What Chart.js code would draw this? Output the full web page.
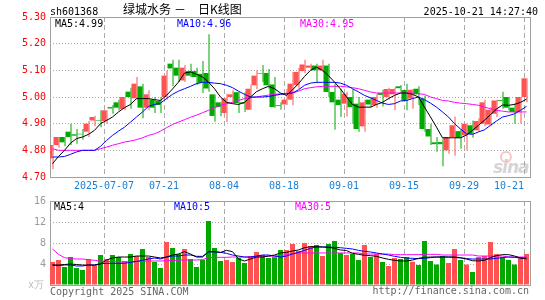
<!DOCTYPE html>
<html>
<head>
<meta charset="utf-8">
<script src="https://cdn.jsdelivr.net/npm/chart.js@4.4.1/dist/chart.umd.min.js"></script>
<style>
  body { margin: 0; background: #fff; }
  #wrap { position: relative; width: 545px; height: 300px; overflow: hidden; background: #fff;
          font-family: "DejaVu Sans Mono", monospace; font-size: 10px; }
  .t { position: absolute; white-space: pre; line-height: 12px; }
  .cjk { font-family: "Noto Sans CJK SC", sans-serif; font-size: 12px; line-height: 14px; }
  canvas { position: absolute; left: 0; }
  #logo { position: absolute; left: 493px; top: 157px; font: italic bold 17px "DejaVu Sans", sans-serif;
          color: rgba(160,160,160,0.45); letter-spacing: -1px; }
  #eye { position: absolute; left: 500px; top: 151px; width: 8px; height: 8px; border-radius: 50%;
         border: 2px solid rgba(235,130,130,0.45); }
</style>
</head>
<body>
<div id="wrap">
  <div id="eye"></div>
  <div id="logo">sina</div>
  <canvas id="priceChart" width="545" height="195" style="top:0"></canvas>
  <canvas id="volChart" width="545" height="105" style="top:195px"></canvas>

  <div class="t" style="left:50px;top:6px;color:#000">sh601368</div>
  <div class="t cjk" style="left:123px;top:2px;color:#000">绿城水务</div>
  <div class="t cjk" style="left:174px;top:2px;color:#000">－</div>
  <div class="t cjk" style="left:198px;top:2px;color:#000">日K线图</div>
  <div class="t" style="right:7px;top:6px;color:#000">2025-10-21 14:27:40</div>

  <div class="t" style="left:55px;top:18px;color:#000">MA5:4.99</div>
  <div class="t" style="left:177px;top:18px;color:#0000ff">MA10:4.96</div>
  <div class="t" style="left:300px;top:18px;color:#ff00ff">MA30:4.95</div>

  <div class="t" style="left:54px;top:201px;color:#000">MA5:4</div>
  <div class="t" style="left:174px;top:201px;color:#0000ff">MA10:5</div>
  <div class="t" style="left:295px;top:201px;color:#ff00ff">MA30:5</div>

  <div class="t" style="left:28px;top:279px;color:#bbb">x万</div>
  <div class="t" style="left:50px;top:286px;color:#666">Copyright 2025 SINA.COM</div>
  <div class="t" style="right:16px;top:285px;color:#666">http://finance.sina.com.cn</div>
</div>

<script>
/* ------------------------------------------------------------
   DATA (80 trading days 06-24 .. 10-21)
------------------------------------------------------------- */
const opens = [
  4.77, 4.82, 4.85, 4.87, 4.86, 4.862, 4.87, 4.912, 4.912, 4.91,
  4.962, 4.98, 4.955, 5.02, 4.995, 5.04, 4.96, 4.99, 4.985, 5.00,
  5.125, 5.11, 5.062, 5.097, 5.097, 5.087, 5.09, 5.01, 4.98, 4.94,
  5.00, 5.018, 4.98, 4.952, 5.044, 5.09, 5.09, 5.047, 4.969, 4.972,
  4.99, 5.044, 5.097, 5.11, 5.118, 5.10, 5.118, 5.019, 4.99, 4.975,
  5.00, 4.975, 4.89, 4.99, 4.97, 5.015, 5.00, 5.01, 5.04, 5.026,
  4.994, 5.031, 4.994, 4.88, 4.83, 4.831, 4.80, 4.85, 4.872, 4.856,
  4.894, 4.875, 4.90, 4.897, 4.937, 4.988, 5.00, 4.96, 4.944, 5.00
];
const highs = [
  4.82, 4.85, 4.85, 4.90, 4.88, 4.88, 4.91, 4.93, 4.95, 4.95,
  4.97, 4.99, 5.00, 5.035, 5.075, 5.05, 5.025, 5.00, 5.00, 5.10,
  5.14, 5.14, 5.12, 5.125, 5.11, 5.135, 5.235, 5.01, 4.98, 5.012,
  5.025, 5.02, 5.018, 5.047, 5.10, 5.12, 5.105, 5.075, 4.98, 5.03,
  5.094, 5.11, 5.14, 5.125, 5.125, 5.14, 5.125, 5.05, 5.031, 5.02,
  5.03, 5.00, 4.99, 5.00, 5.01, 5.026, 5.035, 5.035, 5.045, 5.05,
  5.03, 5.04, 5.006, 4.90, 4.85, 4.844, 4.85, 4.927, 4.88, 4.90,
  4.912, 4.92, 4.99, 4.962, 4.99, 5.02, 5.00, 4.977, 5.00, 5.07
];
const lows = [
  4.73, 4.81, 4.815, 4.82, 4.825, 4.84, 4.85, 4.89, 4.887, 4.90,
  4.937, 4.95, 4.95, 4.956, 4.99, 4.92, 4.95, 4.94, 4.94, 4.99,
  5.04, 5.056, 5.056, 5.075, 5.045, 5.015, 5.02, 4.907, 4.928, 4.906,
  4.975, 4.94, 4.944, 4.952, 5.03, 5.056, 5.031, 4.96, 4.952, 4.97,
  4.969, 5.03, 5.09, 5.10, 5.052, 5.095, 5.00, 4.877, 4.925, 4.927,
  4.90, 4.87, 4.87, 4.96, 4.96, 4.964, 4.99, 4.95, 5.02, 4.95,
  4.956, 4.97, 4.87, 4.82, 4.795, 4.74, 4.787, 4.78, 4.806, 4.80,
  4.847, 4.87, 4.89, 4.89, 4.925, 4.956, 4.95, 4.90, 4.90, 4.98
];
const closes = [
  4.82, 4.85, 4.83, 4.85, 4.855, 4.86, 4.90, 4.925, 4.91, 4.95,
  4.957, 4.96, 5.00, 5.00, 5.05, 4.96, 5.01, 4.96, 4.97, 5.08,
  5.107, 5.08, 5.11, 5.08, 5.075, 5.053, 5.032, 4.929, 4.962, 4.995,
  5.01, 4.977, 4.975, 5.031, 5.08, 5.088, 5.044, 4.962, 4.966, 4.99,
  5.05, 5.094, 5.122, 5.118, 5.10, 5.118, 5.019, 4.98, 4.97, 5.012,
  4.962, 4.88, 4.98, 4.972, 5.00, 5.008, 5.03, 5.03, 5.033, 4.986,
  5.027, 5.01, 4.88, 4.852, 4.823, 4.823, 4.85, 4.894, 4.847, 4.90,
  4.862, 4.91, 4.98, 4.952, 4.987, 4.985, 4.96, 4.944, 5.00, 5.07
];
const ma5 = [
  4.75, 4.777, 4.80, 4.827, 4.844, 4.85, 4.86, 4.875, 4.90, 4.912,
  4.925, 4.944, 4.96, 4.972, 4.994, 4.994, 4.994, 4.99, 4.987, 5.006,
  5.03, 5.056, 5.09, 5.094, 5.085, 5.075, 5.056, 5.031, 5.00, 4.98,
  4.975, 4.972, 4.98, 5.00, 5.02, 5.031, 5.04, 5.031, 5.015, 5.006,
  5.027, 5.05, 5.077, 5.10, 5.112, 5.10, 5.08, 5.056, 5.03, 5.00,
  4.972, 4.962, 4.962, 4.962, 4.972, 4.98, 4.994, 5.006, 5.015, 5.015,
  5.01, 5.00, 4.962, 4.925, 4.887, 4.847, 4.847, 4.847, 4.847, 4.857,
  4.875, 4.894, 4.913, 4.934, 4.955, 4.97, 4.969, 4.972, 4.98, 4.992
];
const ma10 = [
  4.775, 4.775, 4.777, 4.785, 4.794, 4.80, 4.80, 4.80, 4.815, 4.837,
  4.856, 4.872, 4.887, 4.906, 4.925, 4.944, 4.965, 4.972, 4.977, 4.994,
  5.01, 5.022, 5.031, 5.04, 5.05, 5.055, 5.055, 5.052, 5.05, 5.044,
  5.035, 5.022, 5.01, 5.00, 5.00, 5.00, 5.002, 5.006, 5.01, 5.012,
  5.015, 5.027, 5.044, 5.052, 5.055, 5.055, 5.055, 5.055, 5.052, 5.044,
  5.031, 5.019, 5.006, 4.997, 4.987, 4.977, 4.972, 4.975, 4.985, 4.987,
  4.994, 5.00, 4.99, 4.977, 4.962, 4.944, 4.925, 4.90, 4.88, 4.862,
  4.86, 4.869, 4.877, 4.894, 4.91, 4.925, 4.93, 4.937, 4.95, 4.965
];
const ma30 = [
  4.806, 4.80, 4.80, 4.80, 4.80, 4.80, 4.80, 4.80, 4.806, 4.812,
  4.819, 4.825, 4.831, 4.835, 4.84, 4.847, 4.856, 4.862, 4.872, 4.885,
  4.897, 4.906, 4.915, 4.924, 4.932, 4.941, 4.95, 4.96, 4.969, 4.975,
  4.98, 4.987, 4.994, 4.997, 5.00, 5.004, 5.007, 5.01, 5.012, 5.014,
  5.015, 5.022, 5.031, 5.035, 5.038, 5.04, 5.04, 5.04, 5.04, 5.038,
  5.035, 5.031, 5.025, 5.019, 5.015, 5.015, 5.015, 5.015, 5.015, 5.015,
  5.015, 5.012, 5.01, 5.00, 4.994, 4.987, 4.985, 4.98, 4.977, 4.975,
  4.972, 4.969, 4.962, 4.956, 4.95, 4.947, 4.944, 4.944, 4.944, 4.944
];
const volumes = [
  4.38, 4.76, 3.43, 5.33, 3.24, 2.86, 4.95, 3.81, 5.71, 4.95,
  5.71, 5.33, 4.57, 5.9, 5.52, 6.86, 5.33, 4.38, 3.24, 8.19,
  7.05, 5.9, 6.86, 4.95, 3.43, 4.76, 12.19, 7.05, 4.57, 4.76,
  4.38, 5.14, 4.19, 5.52, 6.29, 5.71, 5.14, 5.3, 6.67, 6.67,
  7.81, 6.48, 8.0, 7.43, 7.62, 5.52, 7.81, 8.38, 6.1, 5.71,
  5.9, 4.76, 7.62, 5.33, 5.9, 4.38, 3.62, 5.14, 4.95, 5.33,
  4.44, 3.81, 8.38, 4.57, 3.9, 5.52, 4.19, 6.86, 4.76, 3.9,
  2.48, 5.33, 5.52, 8.19, 5.9, 5.33, 4.76, 3.9, 5.33, 5.9
];
const volMa5 = [
  3.81, 3.81, 3.9, 4.0, 3.9, 3.8, 3.8, 3.8, 4.0, 4.76,
  5.14, 5.33, 5.33, 5.33, 5.52, 5.52, 5.52, 5.33, 5.14, 5.33,
  5.71, 5.9, 6.35, 5.9, 5.33, 5.33, 6.35, 6.35, 6.2, 6.6,
  6.35, 4.95, 4.57, 4.95, 5.33, 5.33, 5.52, 5.71, 6.1, 6.2,
  6.48, 6.67, 7.1, 7.3, 7.3, 7.24, 7.17, 6.98, 6.67, 6.57,
  6.03, 5.84, 5.65, 5.59, 5.46, 5.14, 4.89, 4.7, 4.57, 4.57,
  4.76, 5.08, 5.27, 5.33, 5.33, 5.33, 5.33, 5.33, 5.21, 4.95,
  4.63, 4.57, 4.7, 5.21, 5.59, 5.78, 5.78, 5.52, 5.14, 4.95
];
const volMa10 = [
  3.81, 3.68, 3.81, 3.81, 3.62, 3.62, 3.81, 3.81, 4.06, 4.13,
  4.13, 4.13, 4.13, 4.32, 4.5, 4.7, 4.95, 5.14, 4.95, 5.33,
  5.52, 5.52, 5.71, 5.71, 5.46, 5.46, 6.3, 6.3, 6.22, 6.03,
  5.71, 5.52, 5.33, 5.33, 5.52, 5.71, 5.71, 5.52, 5.33, 5.52,
  5.9, 6.22, 6.6, 6.98, 7.24, 7.24, 7.24, 7.17, 7.1, 6.98,
  6.86, 6.6, 6.41, 6.29, 6.1, 5.9, 5.71, 5.46, 5.27, 5.14,
  5.08, 5.02, 5.08, 5.21, 5.33, 5.33, 5.33, 5.27, 5.14, 5.02,
  4.95, 4.95, 4.95, 4.95, 5.08, 5.21, 5.33, 5.27, 5.14, 5.14
];
const volMa30 = [
  6.86, 5.84, 5.2, 5.02, 4.95, 4.95, 4.83, 4.7, 4.57, 4.51,
  4.44, 4.38, 4.38, 4.44, 4.44, 4.51, 4.57, 4.57, 4.57, 4.63,
  4.7, 4.7, 4.76, 4.76, 4.76, 4.83, 5.2, 5.27, 5.27, 5.27,
  5.33, 5.33, 5.33, 5.33, 5.4, 5.4, 5.46, 5.52, 5.6, 5.8,
  6.0, 6.1, 6.1, 6.1, 6.1, 6.1, 6.1, 6.1, 6.1, 6.1,
  6.1, 6.1, 5.9, 5.9, 5.9, 5.9, 5.9, 5.78, 5.78, 5.78,
  5.78, 5.78, 5.84, 5.84, 5.84, 5.71, 5.71, 5.71, 5.71, 5.71,
  5.71, 5.52, 5.52, 5.52, 5.52, 5.52, 5.33, 5.33, 5.33, 5.33
];
// date ticks: candle index and label
const tickIndex = [9, 19, 29, 39, 49, 59, 69, 79];
const tickLabels = ["2025-07-07", "07-21", "08-04", "08-18", "09-01", "09-15", "09-29", "10-21"];
const priceTicks = [4.7, 4.8, 4.9, 5.0, 5.1, 5.2, 5.3];
const volTicks = [0, 4, 8, 12, 16];

/* ------------------------------------------------------------
   SETUP
------------------------------------------------------------- */
Chart.defaults.font.family = '"DejaVu Sans Mono", monospace';
Chart.defaults.font.size = 10;

const UP = "#ff5252";
const DOWN = "#00a800";
const GRID = "#aaaaaa";

const idx = opens.map((_, i) => i);
const xMin = -5 / 12;               // candle i sits in the middle of its 6px slot
const xMax = opens.length + xMin;
const candleColor = idx.map(i => closes[i] >= opens[i] ? UP : DOWN);
const pts = arr => idx.map(i => ({ x: i, y: arr[i] }));

// the last date label sits left of its grid line
const shownLabels = tickLabels.map((t, k) => k === tickLabels.length - 1 ? t.padEnd(t.length * 2, " ") : t);

const framePlugin = {
    id: "frame",
    beforeDatasetsDraw(chart) {
        const { ctx, chartArea: a } = chart;
        ctx.save();
        ctx.strokeStyle = "#a0a0a0";
        ctx.lineWidth = 1;
        ctx.strokeRect(a.left + 0.5, a.top + 0.5, a.right - a.left, a.bottom - a.top);
        ctx.restore();
    }
};

function xAxis(showLabels, height) {
    return {
        type: "linear",
        min: xMin,
        max: xMax,
        offset: false,
        grid: { offset: false, color: GRID, drawTicks: false },
        border: { display: false, dash: [5, 3] },
        afterBuildTicks: s => { s.ticks = tickIndex.map(v => ({ value: v + xMin })); },
        ticks: {
            display: showLabels,
            autoSkip: false,
            maxRotation: 0,
            padding: 3,
            color: "#1a7fd4",
            callback: (v, i) => shownLabels[i]
        },
        afterFit: s => { s.height = height; s.paddingLeft = 0; s.paddingRight = 0; }
    };
}

function lineSet(data, color) {
    return { type: "line", data: pts(data), borderColor: color, borderWidth: 1,
             pointRadius: 0, tension: 0, order: 0 };
}

/* ------------------------------------------------------------
   K-LINE
------------------------------------------------------------- */
new Chart(document.querySelector("#priceChart"), {
    type: "bar",
    data: {
        datasets: [
            lineSet(ma5, "#000000"),
            lineSet(ma10, "#0000ff"),
            lineSet(ma30, "#ff00ff"),
            {
                data: idx.map(i => ({ x: i, y: [opens[i], closes[i]] })),
                backgroundColor: candleColor,
                barThickness: 5,
                inflateAmount: 0,
                order: 1
            },
            {
                data: idx.map(i => ({ x: i, y: [lows[i], highs[i]] })),
                backgroundColor: candleColor,
                barThickness: 1,
                inflateAmount: 0,
                order: 2
            }
        ]
    },
    options: {
        responsive: false,
        animation: false,
        events: [],
        layout: { padding: { top: 17, right: 15, left: 0, bottom: 0 } },
        plugins: { legend: { display: false }, tooltip: { enabled: false } },
        scales: {
            x: xAxis(true, 18),
            y: {
                min: 4.7,
                max: 5.3,
                afterBuildTicks: s => { s.ticks = priceTicks.map(v => ({ value: v })); },
                ticks: { color: "#ff0000", padding: 4, callback: v => v.toFixed(2) },
                grid: { color: GRID, drawTicks: false },
                border: { display: false, dash: [1, 2] },
                afterFit: s => { s.width = 50; s.paddingTop = 0; s.paddingBottom = 0; }
            }
        }
    },
    plugins: [framePlugin]
});

/* ------------------------------------------------------------
   VOLUME
------------------------------------------------------------- */
new Chart(document.querySelector("#volChart"), {
    type: "bar",
    data: {
        datasets: [
            lineSet(volMa5, "#000000"),
            lineSet(volMa10, "#0000ff"),
            lineSet(volMa30, "#ff00ff"),
            {
                data: pts(volumes),
                backgroundColor: candleColor,
                barThickness: 5,
                inflateAmount: 0,
                order: 1
            }
        ]
    },
    options: {
        responsive: false,
        animation: false,
        events: [],
        layout: { padding: { top: 6, right: 15, left: 0, bottom: 0 } },
        plugins: { legend: { display: false }, tooltip: { enabled: false } },
        scales: {
            x: xAxis(false, 15),
            y: {
                min: 0,
                max: 16,
                afterBuildTicks: s => { s.ticks = volTicks.map(v => ({ value: v })); },
                ticks: { color: "#999999", padding: 4, callback: v => v === 0 ? "" : String(v) },
                grid: { color: GRID, drawTicks: false },
                border: { display: false, dash: [1, 2] },
                afterFit: s => { s.width = 50; s.paddingTop = 0; s.paddingBottom = 0; }
            }
        }
    },
    plugins: [framePlugin]
});
</script>
</body>
</html>
